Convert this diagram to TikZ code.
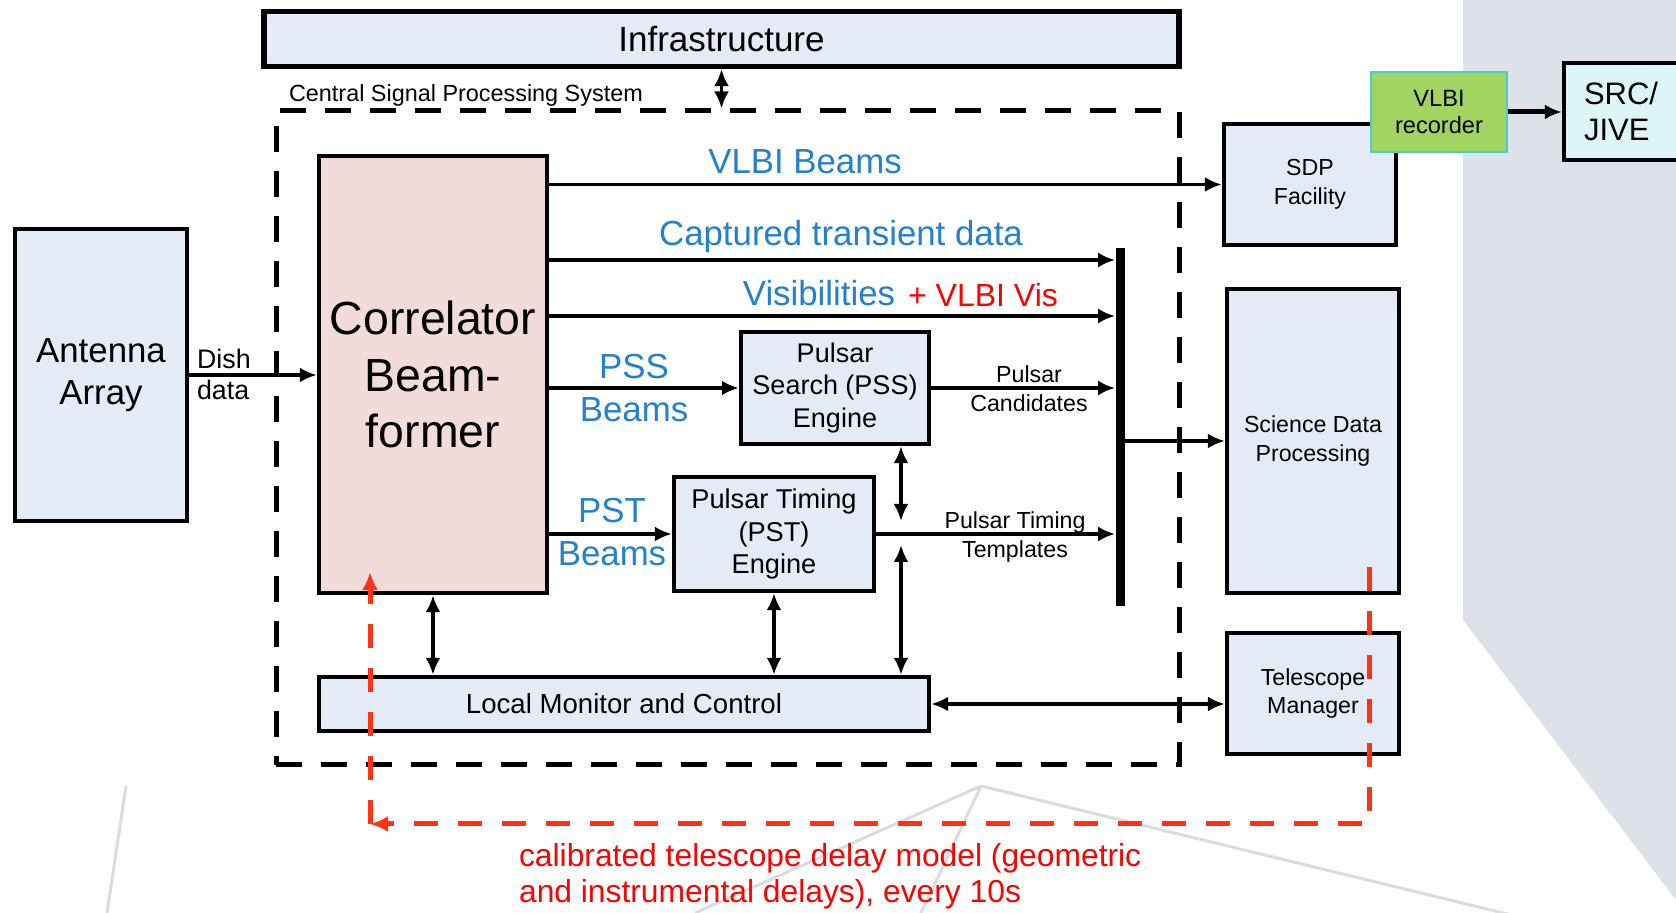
\documentclass[tikz,border=0pt]{standalone}
\usepackage{fontspec}
\setmainfont{Liberation Sans}
\usetikzlibrary{arrows.meta}
\definecolor{boxblue}{RGB}{229,235,246}
\definecolor{corrpink}{RGB}{241,220,218}
\definecolor{beamblue}{RGB}{35,128,207}
\definecolor{delayred}{RGB}{255,50,20}
\definecolor{recgreen}{RGB}{162,212,98}
\definecolor{recedge}{RGB}{75,205,205}
\definecolor{srcblue}{RGB}{222,245,247}
\definecolor{slidegrey}{RGB}{221,226,233}
\definecolor{slideline}{RGB}{214,221,228}
\tikzset{
  box/.style={draw=black, line width=2.2pt, fill=boxblue, align=center, inner sep=0pt},
  link/.style={line width=1.7pt, -{Latex[length=8.5pt,width=7.5pt]}},
  twoway/.style={line width=1.7pt, {Latex[length=8.5pt,width=7.5pt]}-{Latex[length=8.5pt,width=7.5pt]}},
  beamtxt/.style={text=beamblue, font=\fontsize{17.4}{21.4}\selectfont, align=center},
  smalltxt/.style={font=\fontsize{11.6}{14.4}\selectfont, align=center},
  delay/.style={draw=delayred, line width=2.5pt, dash pattern=on 12pt off 10pt},
}
\begin{document}
\begin{tikzpicture}[x=0.5pt,y=-0.5pt]
\useasboundingbox (0,0) rectangle (1676,913);
\fill[white] (0,0) rectangle (1676,913);
% slide background
\fill[slidegrey] (1463,0) -- (1676,0) -- (1676,900) -- (1463,620) -- cycle;
\draw[slideline, line width=1.5pt] (126,786) -- (107,913);
\draw[slideline, line width=1.5pt] (981,786) -- (695,913);
\draw[slideline, line width=1.5pt] (981,786) -- (921,913);
\draw[slideline, line width=1.5pt] (981,786) -- (1676,955);

% blocks
\node[box, line width=2.6pt, minimum width=457.5pt, minimum height=27.5pt, font=\fontsize{17.5}{21}\selectfont] (infra) at (721.5,39) {Infrastructure};
\node[draw, line width=2.5pt, dash pattern=on 13pt off 9.5pt, minimum width=451.5pt, minimum height=327pt] (csp) at (727.5,438) {};
\node[anchor=west, font=\fontsize{11.7}{14}\selectfont] (csplabel) at (282,95) {Central Signal Processing System};
\node[box, minimum width=86pt, minimum height=146pt, font=\fontsize{17.4}{20.8}\selectfont] (ant) at (101,375) {Antenna\\Array};
\node[box, fill=corrpink, minimum width=114pt, minimum height=218.5pt, font=\fontsize{23.2}{28.3}\selectfont] (corr) at (433,374.5) {Correlator\\Beam-\\former};
\node[box, minimum width=94pt, minimum height=56pt, font=\fontsize{13.5}{16.3}\selectfont] (pss) at (835,388) {Pulsar\\Search (PSS)\\Engine};
\node[box, minimum width=100pt, minimum height=57pt, font=\fontsize{13.6}{16.3}\selectfont] (pst) at (774,534) {Pulsar Timing\\(PST)\\Engine};
\node[box, minimum width=305pt, minimum height=27pt, font=\fontsize{13.8}{16}\selectfont] (lmc) at (624,704) {Local Monitor and Control};
\node[fill=black, minimum width=4.5pt, minimum height=179pt, inner sep=0pt] (bar) at (1120,427) {};
\node[box, minimum width=86pt, minimum height=60.5pt, smalltxt] (sdp) at (1310,184.5) {SDP\\Facility};
\node[box, minimum width=86pt, minimum height=152pt, smalltxt] (sdproc) at (1313,441) {Science Data\\Processing};
\node[box, minimum width=86pt, minimum height=60.5pt, smalltxt] (tm) at (1313,693.5) {Telescope\\Manager};
\node[draw=recedge, fill=recgreen, line width=1.2pt, minimum width=68pt, minimum height=40pt, align=center, font=\fontsize{11.8}{13.4}\selectfont] (rec) at (1439,112) {VLBI\\recorder};
\node[box, fill=srcblue, inner xsep=10pt, text width=43pt, minimum height=48.5pt, align=left, font=\fontsize{15.5}{18.2}\selectfont] (src) at (1627,111.5) {SRC/\\JIVE};

% labels
\node[anchor=west, font=\fontsize{13.4}{15.5}\selectfont, align=left] (dishlbl) at (190,374) {Dish\\data};
\node[beamtxt] (vlbilbl) at (805,162) {VLBI Beams};
\node[beamtxt] (captlbl) at (841,237) {Captured transient data};
\node[beamtxt] (vislbl) at (819,293) {Visibilities};
\node[text=red, font=\fontsize{16}{19}\selectfont] (vlbivis) at (983,295) {+ VLBI Vis};
\node[beamtxt] (psslbl) at (634,388) {PSS\\Beams};
\node[beamtxt] (pstlbl) at (612,532) {PST\\Beams};
\node[smalltxt] (candlbl) at (1029,389) {Pulsar\\Candidates};
\node[smalltxt] (templbl) at (1015,537) {Pulsar Timing\\Templates};
\node[anchor=west, text=red, align=left, font=\fontsize{15.9}{18.2}\selectfont] (caption) at (512,876) {calibrated telescope delay model (geometric\\and instrumental delays), every 10s};

% connectors
\draw[twoway] (infra.south) -- (infra.south |- csp.north);
\draw[link] (ant.east) -- (ant.east -| corr.west);
\draw[link] (corr.east |- sdp.west) -- (sdp.west);
\draw[link] (corr.east |- 0,260) -- (bar.west |- 0,260);
\draw[link] (corr.east |- 0,316) -- (bar.west |- 0,316);
\draw[link] (corr.east |- pss.west) -- (pss.west);
\draw[link] (pss.east) -- (pss.east -| bar.west);
\draw[link] (corr.east |- pst.west) -- (pst.west);
\draw[link] (pst.east) -- (pst.east -| bar.west);
\draw[link] (bar.east |- sdproc.west) -- (sdproc.west);
\coordinate (pssdn) at (901,521);
\coordinate (lmcup) at (901,545);
\draw[twoway] (pssdn |- pss.south) -- (pssdn);
\draw[twoway] (lmcup) -- (lmcup |- lmc.north);
\draw[twoway] (corr.south) -- (corr.south |- lmc.north);
\draw[twoway] (pst.south) -- (pst.south |- lmc.north);
\draw[twoway] (lmc.east) -- (lmc.east -| tm.west);
\draw[link, line width=2.5pt] (rec.east) -- (rec.east -| src.west);

% delay model loop
\coordinate (tmdrop) at (1369,567);
\coordinate (corner) at (370,824);
\coordinate (corrup) at (370,572);
\draw[delay, -{Latex[length=9pt,width=8pt]}] (tmdrop) -- (tmdrop |- corner) -- (corner);
\draw[delay, -{Latex[length=9pt,width=8pt]}] (corner) -- (corrup);
\end{tikzpicture}
\end{document}
